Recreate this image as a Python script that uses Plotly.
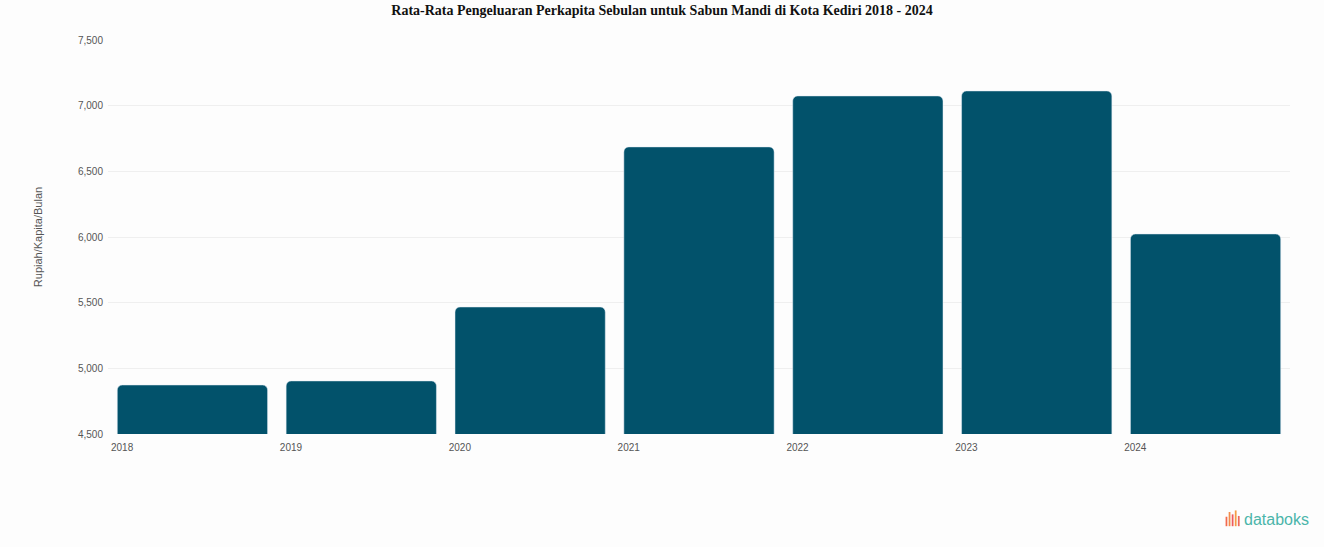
import plotly.graph_objects as go

# data (tick labels are blurred, values estimated)
years = [2018, 2019, 2020, 2021, 2022, 2023, 2024]
pengeluaran = [4873, 4904, 5467, 6686, 7074, 7112, 6023]
y_ticks = [4500, 5000, 5500, 6000, 6500, 7000, 7500]
y_ticktext = ["4,500", "5,000", "5,500", "6,000", "6,500", "7,000", "7,500"]

BAR_COLOR = "#02526b"

fig = go.Figure()
fig.add_trace(go.Bar(
    x=[y + 0.5 for y in years],
    y=pengeluaran,
    width=0.89,
    marker=dict(color=BAR_COLOR, cornerradius=5),
    hovertemplate="%{y:,}<extra></extra>",
))

fig.update_layout(
    width=1324, height=547,
    paper_bgcolor="#fdfdfd",
    plot_bgcolor="#fdfdfd",
    margin=dict(l=108, r=34, t=40, b=113),
    showlegend=False,
    title=dict(
        text="<b>Rata-Rata Pengeluaran Perkapita Sebulan untuk Sabun Mandi di Kota Kediri 2018 - 2024</b>",
        x=0.5, xanchor="center", y=0.982, yanchor="middle",
        font=dict(family="Liberation Serif", size=14, color="#111111"),
    ),
    font=dict(family="Liberation Sans", color="#555555"),
)

fig.update_xaxes(
    range=[2018, 2025],
    tickvals=years,
    ticktext=[str(y) for y in years],
    ticklabelposition="outside right",
    ticklabelstandoff=6,
    ticklabelshift=3,
    tickfont=dict(size=10, color="#555555"),
    showgrid=False, zeroline=False, showline=False,
    fixedrange=True,
)
fig.update_yaxes(
    range=[4500, 7500],
    tickvals=y_ticks,
    ticktext=y_ticktext,
    ticklabelstandoff=4,
    tickfont=dict(size=10, color="#555555"),
    showgrid=True, gridcolor="#efefef", gridwidth=1,
    zeroline=False, showline=False,
    ticks="", ticklen=0,
    title=dict(text="Rupiah/Kapita/Bulan", font=dict(size=11, color="#555555"), standoff=33),
    fixedrange=True,
)

# databoks logo, bottom right
logo_cols = ["#f26b4f", "#f38b4a", "#ef5b5b", "#f59c45", "#ee6a5a"]
logo_h = [0.024, 0.036, 0.030, 0.040, 0.026]
for i, (c, h) in enumerate(zip(logo_cols, logo_h)):
    x0 = 0.9455 + i * 0.0026
    fig.add_shape(type="rect", xref="paper", yref="paper",
                  x0=x0, x1=x0 + 0.0015, y0=-0.234, y1=-0.234 + h,
                  fillcolor=c, line_width=0)
fig.add_annotation(
    text="databoks", xref="paper", yref="paper",
    x=0.9595, y=-0.216, xanchor="left", yanchor="middle",
    showarrow=False,
    font=dict(family="Liberation Sans", size=16, color="#4bb5aa"),
)

fig.write_html("out.html", config={"displayModeBar": False},
               post_script="document.body.style.margin='0';")
